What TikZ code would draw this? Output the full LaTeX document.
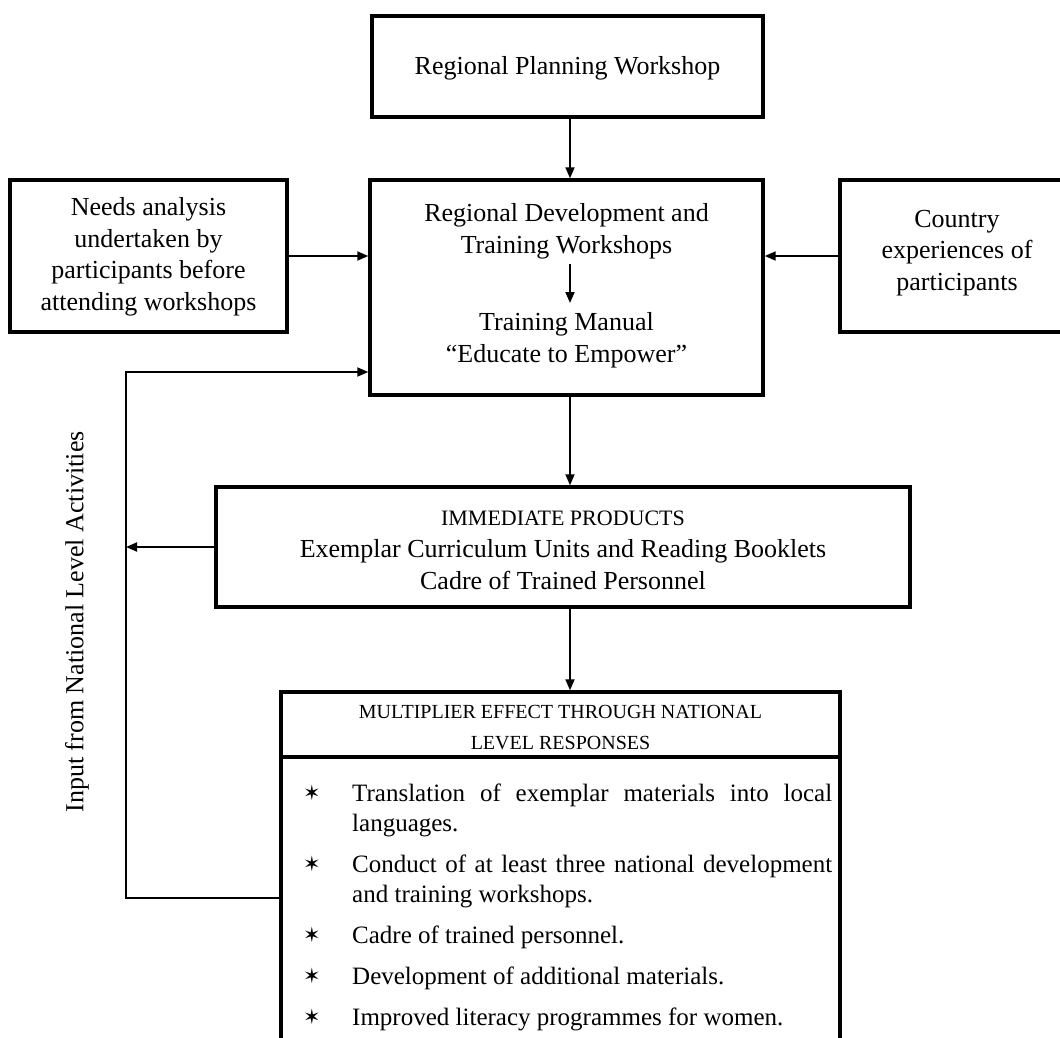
\documentclass[tikz,border=0pt]{standalone}
\usepackage{fontspec}
\setmainfont{Liberation Serif}
\newfontfamily\symfont{DejaVu Sans}
\usetikzlibrary{arrows.meta}

% one entry of the bulleted list: star hung in the left margin
\newcommand{\listentry}[1]{\par\noindent\llap{\makebox[49pt][l]{\raisebox{1pt}{\fontsize{21}{21}\symfont ✶}}}#1\par}

\begin{document}
\begin{tikzpicture}[x=1pt,y=-1pt,
  box/.style={draw,line width=3.4pt,inner sep=0pt},
  txt/.style={font=\fontsize{26}{32}\selectfont,align=center,inner sep=0pt},
  link/.style={line width=1.8pt,-{Triangle[length=11pt,width=9pt]}},
]
\useasboundingbox (0,0) rectangle (1060,1037);
\clip (0,0) rectangle (1060,1037);

% boxes
\node[box,minimum width=391pt,minimum height=101pt] (plan) at (567.5,66.5) {};
\node[txt] (plantext) at (567.5,68) {Regional Planning Workshop};

\node[box,minimum width=393pt,minimum height=215pt] (main) at (566.5,287.5) {};
\node[txt] (rdtw) at (566.5,231) {Regional Development and\\Training Workshops};
\node[txt] (manual) at (566.5,340) {Training Manual\\“Educate to Empower”};

\node[box,minimum width=277pt,minimum height=152pt] (needs) at (148.5,256) {};
\node[txt,font=\fontsize{26}{31.5}\selectfont] (needstext) at (148.5,257) {Needs analysis\\undertaken by\\participants before\\attending workshops};

\node[box,minimum width=240pt,minimum height=152pt] (country) at (960,256) {};
\node[txt,font=\fontsize{26}{31.5}\selectfont] (countrytext) at (957,253) {Country\\experiences of\\participants};

\node[box,minimum width=694pt,minimum height=120pt] (imm) at (563,547) {};
\node[txt] (immtext) at (563,550) {{\fontsize{22}{32}\selectfont IMMEDIATE PRODUCTS}\\Exemplar Curriculum Units and Reading Booklets\\Cadre of Trained Personnel};

\node[box,minimum width=559pt,minimum height=65pt] (head) at (560.5,724.5) {};
\node[txt,font=\fontsize{20}{31}\selectfont] (headtext) at (560.5,728) {MULTIPLIER EFFECT THROUGH NATIONAL\\LEVEL RESPONSES};

\node[box,minimum width=559pt,minimum height=310pt] (listbox) at (560.5,912) {};
\node[inner sep=0pt,anchor=north west,text width=480pt,align=justify,
      font=\fontsize{25}{30}\selectfont] (items) at (352,760) {%
  \hyphenpenalty=10000 \tolerance=9999 \parskip=11pt
  \listentry{Translation of exemplar materials into local languages.}
  \listentry{Conduct of at least three national development and training workshops.}
  \listentry{Cadre of trained personnel.}
  \listentry{Development of additional materials.}
  \listentry{Improved literacy programmes for women.}};

\node[txt,rotate=90] (input) at (77,622) {Input from National Level Activities};

% connectors
\coordinate (spine) at (570,0);
\coordinate (railtop) at (126,372);
\coordinate (railbot) at (126,898);
\draw[link] (spine |- plan.south) -- (spine |- main.north);
\draw[link] (needs.east) -- (needs.east -| main.west);
\draw[link] (country.west) -- (country.west -| main.east);
\draw[link] (spine |- 0,264) -- (spine |- 0,303);
\draw[link] (spine |- main.south) -- (spine |- imm.north);
\draw[link] (spine |- imm.south) -- (spine |- head.north);
\draw[link] (imm.west) -- (imm.west -| railtop);
\draw[link] (listbox.west |- railbot) -- (railbot) -- (railtop) -- (main.west |- railtop);
\end{tikzpicture}
\end{document}
